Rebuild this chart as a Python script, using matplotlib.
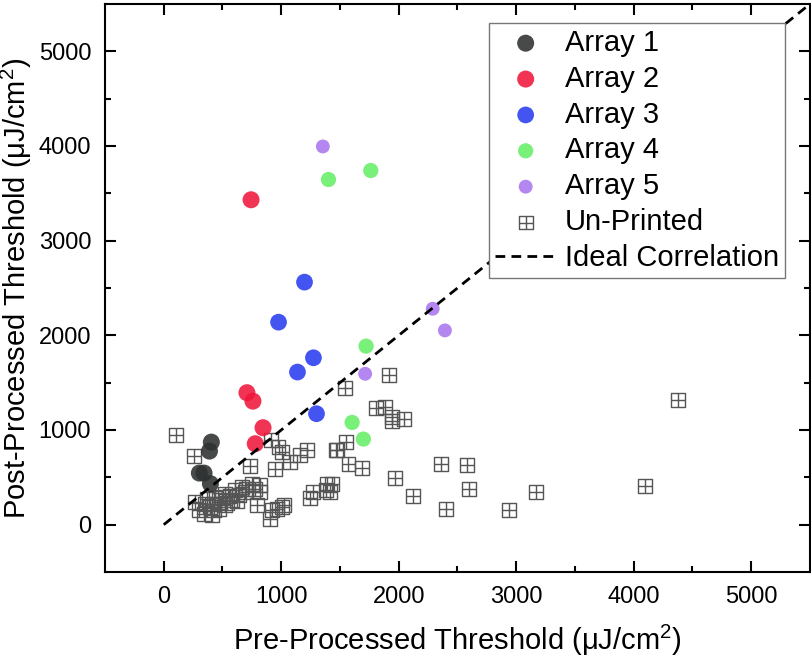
import numpy as np
import matplotlib
matplotlib.use("Agg")
import matplotlib.pyplot as plt
from matplotlib.path import Path

plt.rcParams['font.family'] = ['Liberation Sans', 'DejaVu Sans']
plt.rcParams['mathtext.fontset'] = 'custom'
plt.rcParams['mathtext.rm'] = 'Liberation Sans'
plt.rcParams['mathtext.default'] = 'regular'
plt.rcParams['lines.scale_dashes'] = False

# printed arrays (pre, post) in uJ/cm^2
a1_x = [405, 389, 303, 343, 397]
a1_y = [872, 777, 545, 545, 433]
a2_x = [743, 708, 759, 845, 779]
a2_y = [3432, 1394, 1305, 1024, 855]
a3_x = [1198, 977, 1274, 1138, 1300]
a3_y = [2562, 2139, 1763, 1612, 1172]
a4_x = [1402, 1762, 1722, 1603, 1699]
a4_y = [3646, 3741, 1886, 1080, 904]
a5_x = [1354, 2289, 2393, 1714]
a5_y = [3995, 2281, 2052, 1594]

# un-printed
up_x = [108, 255, 269, 298, 340, 411, 425, 467, 524, 609, 666, 751, 821, 821,
        793, 524, 581, 467, 397, 637, 694, 496, 369, 731, 949, 915, 977, 1006,
        1076, 1161, 1218, 1467, 1552, 1572, 1269, 1246, 1388, 1431, 1382, 963,
        906, 1006, 921, 1020, 1920, 1546, 1807, 1884, 1946, 1940, 2045, 1473,
        1685, 1971, 2121, 2357, 2578, 2597, 2399, 2937, 3166, 4375, 4093, 1416,
        440, 560, 700, 780, 350, 430, 620, 540]
up_y = [943, 721, 239, 151, 116, 98, 222, 257, 327, 362, 397, 433, 415, 344,
        204, 204, 257, 169, 186, 309, 344, 291, 275, 616, 591, 890, 819, 767,
        661, 732, 785, 785, 872, 637, 344, 285, 433, 426, 362, 169,
        63, 186, 151, 204, 1584, 1443, 1231, 1242, 1136, 1091, 1119, 792,
        598, 492, 299, 644, 629, 373, 165, 158, 344, 1313, 408, 344,
        280, 300, 380, 380, 220, 150, 250, 230]

names = ['Array 1', 'Array 2', 'Array 3', 'Array 4', 'Array 5']
colors = ['#2e3131', '#f0163c', '#2a3cf0', '#66ee66', '#aa77ee']
sizes = [150, 150, 145, 120, 100]

# square with a cross inside
verts = [(-1, -1), (1, -1), (1, 1), (-1, 1), (-1, -1),
         (0, -1), (0, 1), (-1, 0), (1, 0)]
codes = [Path.MOVETO, Path.LINETO, Path.LINETO, Path.LINETO, Path.CLOSEPOLY,
         Path.MOVETO, Path.LINETO, Path.MOVETO, Path.LINETO]
boxplus = Path(verts, codes)

fig = plt.figure(figsize=(8.12, 6.58), dpi=100)
ax = fig.add_axes([105/812, 1-572/658, 705/812, 568/658])

xs = [a1_x, a2_x, a3_x, a4_x, a5_x]
ys = [a1_y, a2_y, a3_y, a4_y, a5_y]
for i in range(5):
    ax.scatter(xs[i], ys[i], s=sizes[i], color=colors[i], alpha=0.88,
               edgecolors='none', label=names[i], zorder=3)

ax.scatter(up_x, up_y, s=100, marker=boxplus, facecolors='none',
           edgecolors='#555555', linewidths=1.0, label='Un-Printed', zorder=2)

ax.plot([0, 5500], [0, 5500], color='black', lw=2, dashes=(7, 4.5),
        label='Ideal Correlation', zorder=4)

ax.set_xlim(-500, 5500)
ax.set_ylim(-500, 5500)
ticks = [0, 1000, 2000, 3000, 4000, 5000]
ax.set_xticks(ticks)
ax.set_yticks(ticks)
ax.set_xticks(np.arange(500, 5500, 1000), minor=True)
ax.set_yticks(np.arange(500, 5500, 1000), minor=True)
ax.tick_params(which='both', direction='in', top=True, right=True, width=1.5,
               labelsize=17, pad=10)
ax.tick_params(which='major', length=8)
ax.tick_params(which='minor', length=4)
for sp in ax.spines.values():
    sp.set_linewidth(1.5)

ax.set_xlabel('Pre-Processed Threshold (μJ/cm$^2$)', fontsize=21, labelpad=11)
ax.set_ylabel('Post-Processed Threshold (μJ/cm$^2$)', fontsize=21, labelpad=3)

leg = ax.legend(loc='upper right', bbox_to_anchor=(785/812, 1-23/658),
                bbox_transform=fig.transFigure, borderaxespad=0, fontsize=21,
                fancybox=False, framealpha=1, edgecolor='#777777',
                borderpad=0.2, labelspacing=0.27, handlelength=2.1,
                handletextpad=0.3, scatterpoints=1)
leg.get_frame().set_linewidth(1.0)
leg.set_zorder(5)

fig.savefig('out.png', dpi=100)
